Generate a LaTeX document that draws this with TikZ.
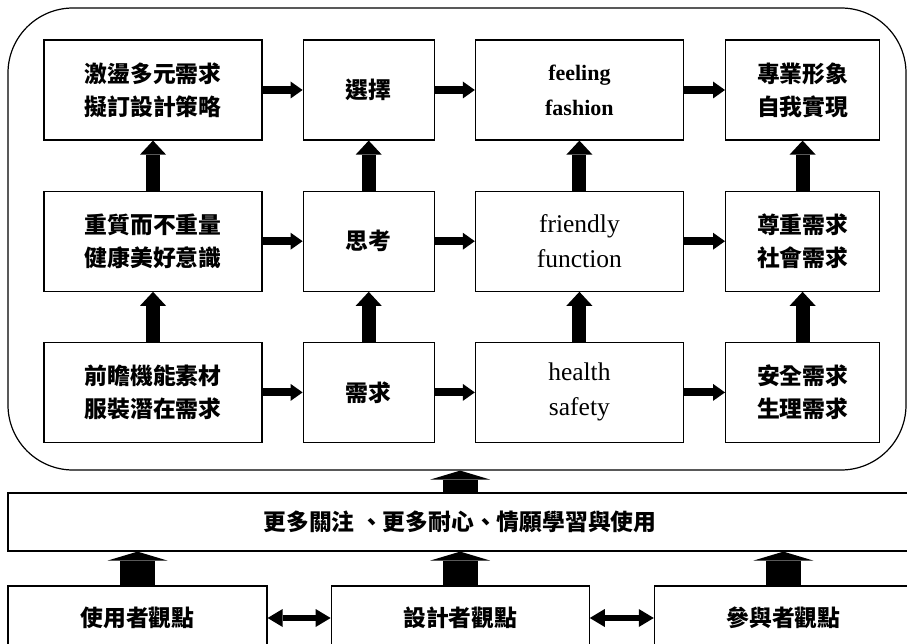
\documentclass[tikz,border=0pt]{standalone}
\usepackage{fontspec}
\setmainfont{Liberation Serif}
\newfontfamily\cjk{Noto Sans CJK TC}
\usetikzlibrary{positioning,arrows.meta}

\tikzset{
  stage/.style={draw, line width=1.2pt, minimum height=100pt, inner sep=0pt, align=center, font=\cjk\bfseries\fontsize{22.8}{33}\selectfont},
  viewbox/.style={draw, line width=1.2pt, minimum height=64pt, minimum width=258pt, inner sep=0pt, font=\cjk\bfseries\fontsize{22.8}{33}\selectfont},
  engbold/.style={font=\bfseries\fontsize{22}{35}\selectfont},
  engtext/.style={font=\fontsize{25.5}{35}\selectfont},
  flow/.style={line width=8pt, -{Triangle[length=12pt, width=17pt, line width=0pt]}},
  rise/.style={line width=14pt, -{Triangle[length=14pt, width=26pt, line width=0pt]}},
  lift/.style={line width=35pt, -{Triangle[length=9pt, width=60pt, line width=0pt]}},
  link/.style={line width=6pt, {Triangle[length=15pt, width=18pt, line width=0pt]}-{Triangle[length=15pt, width=18pt, line width=0pt]}},
}

\begin{document}
\begin{tikzpicture}[x=1pt, y=-1pt]
  \useasboundingbox (0,0) rectangle (907,644);
  \node[draw, line width=1.2pt, rounded corners=65pt, minimum width=898pt, minimum height=462pt] (frame) at (457,239) {};
  \node[stage, minimum width=218pt] (strategy) at (153,90) {激盪多元需求\\擬訂設計策略};
  \node[stage, minimum width=131pt, right=40pt of strategy] (choose) {選擇};
  \node[stage, engbold, minimum width=208pt, right=40pt of choose] (feeling) {feeling\\fashion};
  \node[stage, minimum width=154pt, right=41pt of feeling] (realize) {專業形象\\自我實現};
  \node[stage, minimum width=218pt, below=50pt of strategy] (quality) {重質而不重量\\健康美好意識};
  \node[stage, minimum width=131pt, below=50pt of choose] (think) {思考};
  \node[stage, engtext, minimum width=208pt, below=50pt of feeling] (friendly) {friendly\\function};
  \node[stage, minimum width=154pt, below=50pt of realize] (esteem) {尊重需求\\社會需求};
  \node[stage, minimum width=218pt, below=50pt of quality] (material) {前瞻機能素材\\服裝潛在需求};
  \node[stage, minimum width=131pt, below=50pt of think] (need) {需求};
  \node[stage, engtext, minimum width=208pt, below=50pt of friendly] (health) {health\\safety};
  \node[stage, minimum width=154pt, below=50pt of esteem] (safety) {安全需求\\生理需求};
  \node[draw, line width=1.2pt, minimum width=904pt, minimum height=58pt, inner sep=0pt, font=\cjk\bfseries\fontsize{22.8}{33}\selectfont] (attitude) at (460,522) {更多關注 、更多耐心、情願學習與使用};
  \node[viewbox, minimum width=259pt] (user) at (137.5,618) {使用者觀點};
  \node[viewbox, right=63pt of user] (designer) {設計者觀點};
  \node[viewbox, right=64pt of designer] (participant) {參與者觀點};
  \draw[flow] (strategy) -- (choose);
  \draw[flow] (choose) -- (feeling);
  \draw[flow] (feeling) -- (realize);
  \draw[flow] (quality) -- (think);
  \draw[flow] (think) -- (friendly);
  \draw[flow] (friendly) -- (esteem);
  \draw[flow] (material) -- (need);
  \draw[flow] (need) -- (health);
  \draw[flow] (health) -- (safety);
  \draw[rise] (quality) -- (strategy);
  \draw[rise] (think) -- (choose);
  \draw[rise] (friendly) -- (feeling);
  \draw[rise] (esteem) -- (realize);
  \draw[rise] (material) -- (quality);
  \draw[rise] (need) -- (think);
  \draw[rise] (health) -- (friendly);
  \draw[rise] (safety) -- (esteem);
  \draw[lift] (attitude.north -| designer) -- (frame.south -| designer);
  \draw[lift] (user.north) -- (user.north |- attitude.south);
  \draw[lift] (designer.north) -- (designer.north |- attitude.south);
  \draw[lift] (participant.north) -- (participant.north |- attitude.south);
  \draw[link] (user) -- (designer);
  \draw[link] (designer) -- (participant);
\end{tikzpicture}
\end{document}
